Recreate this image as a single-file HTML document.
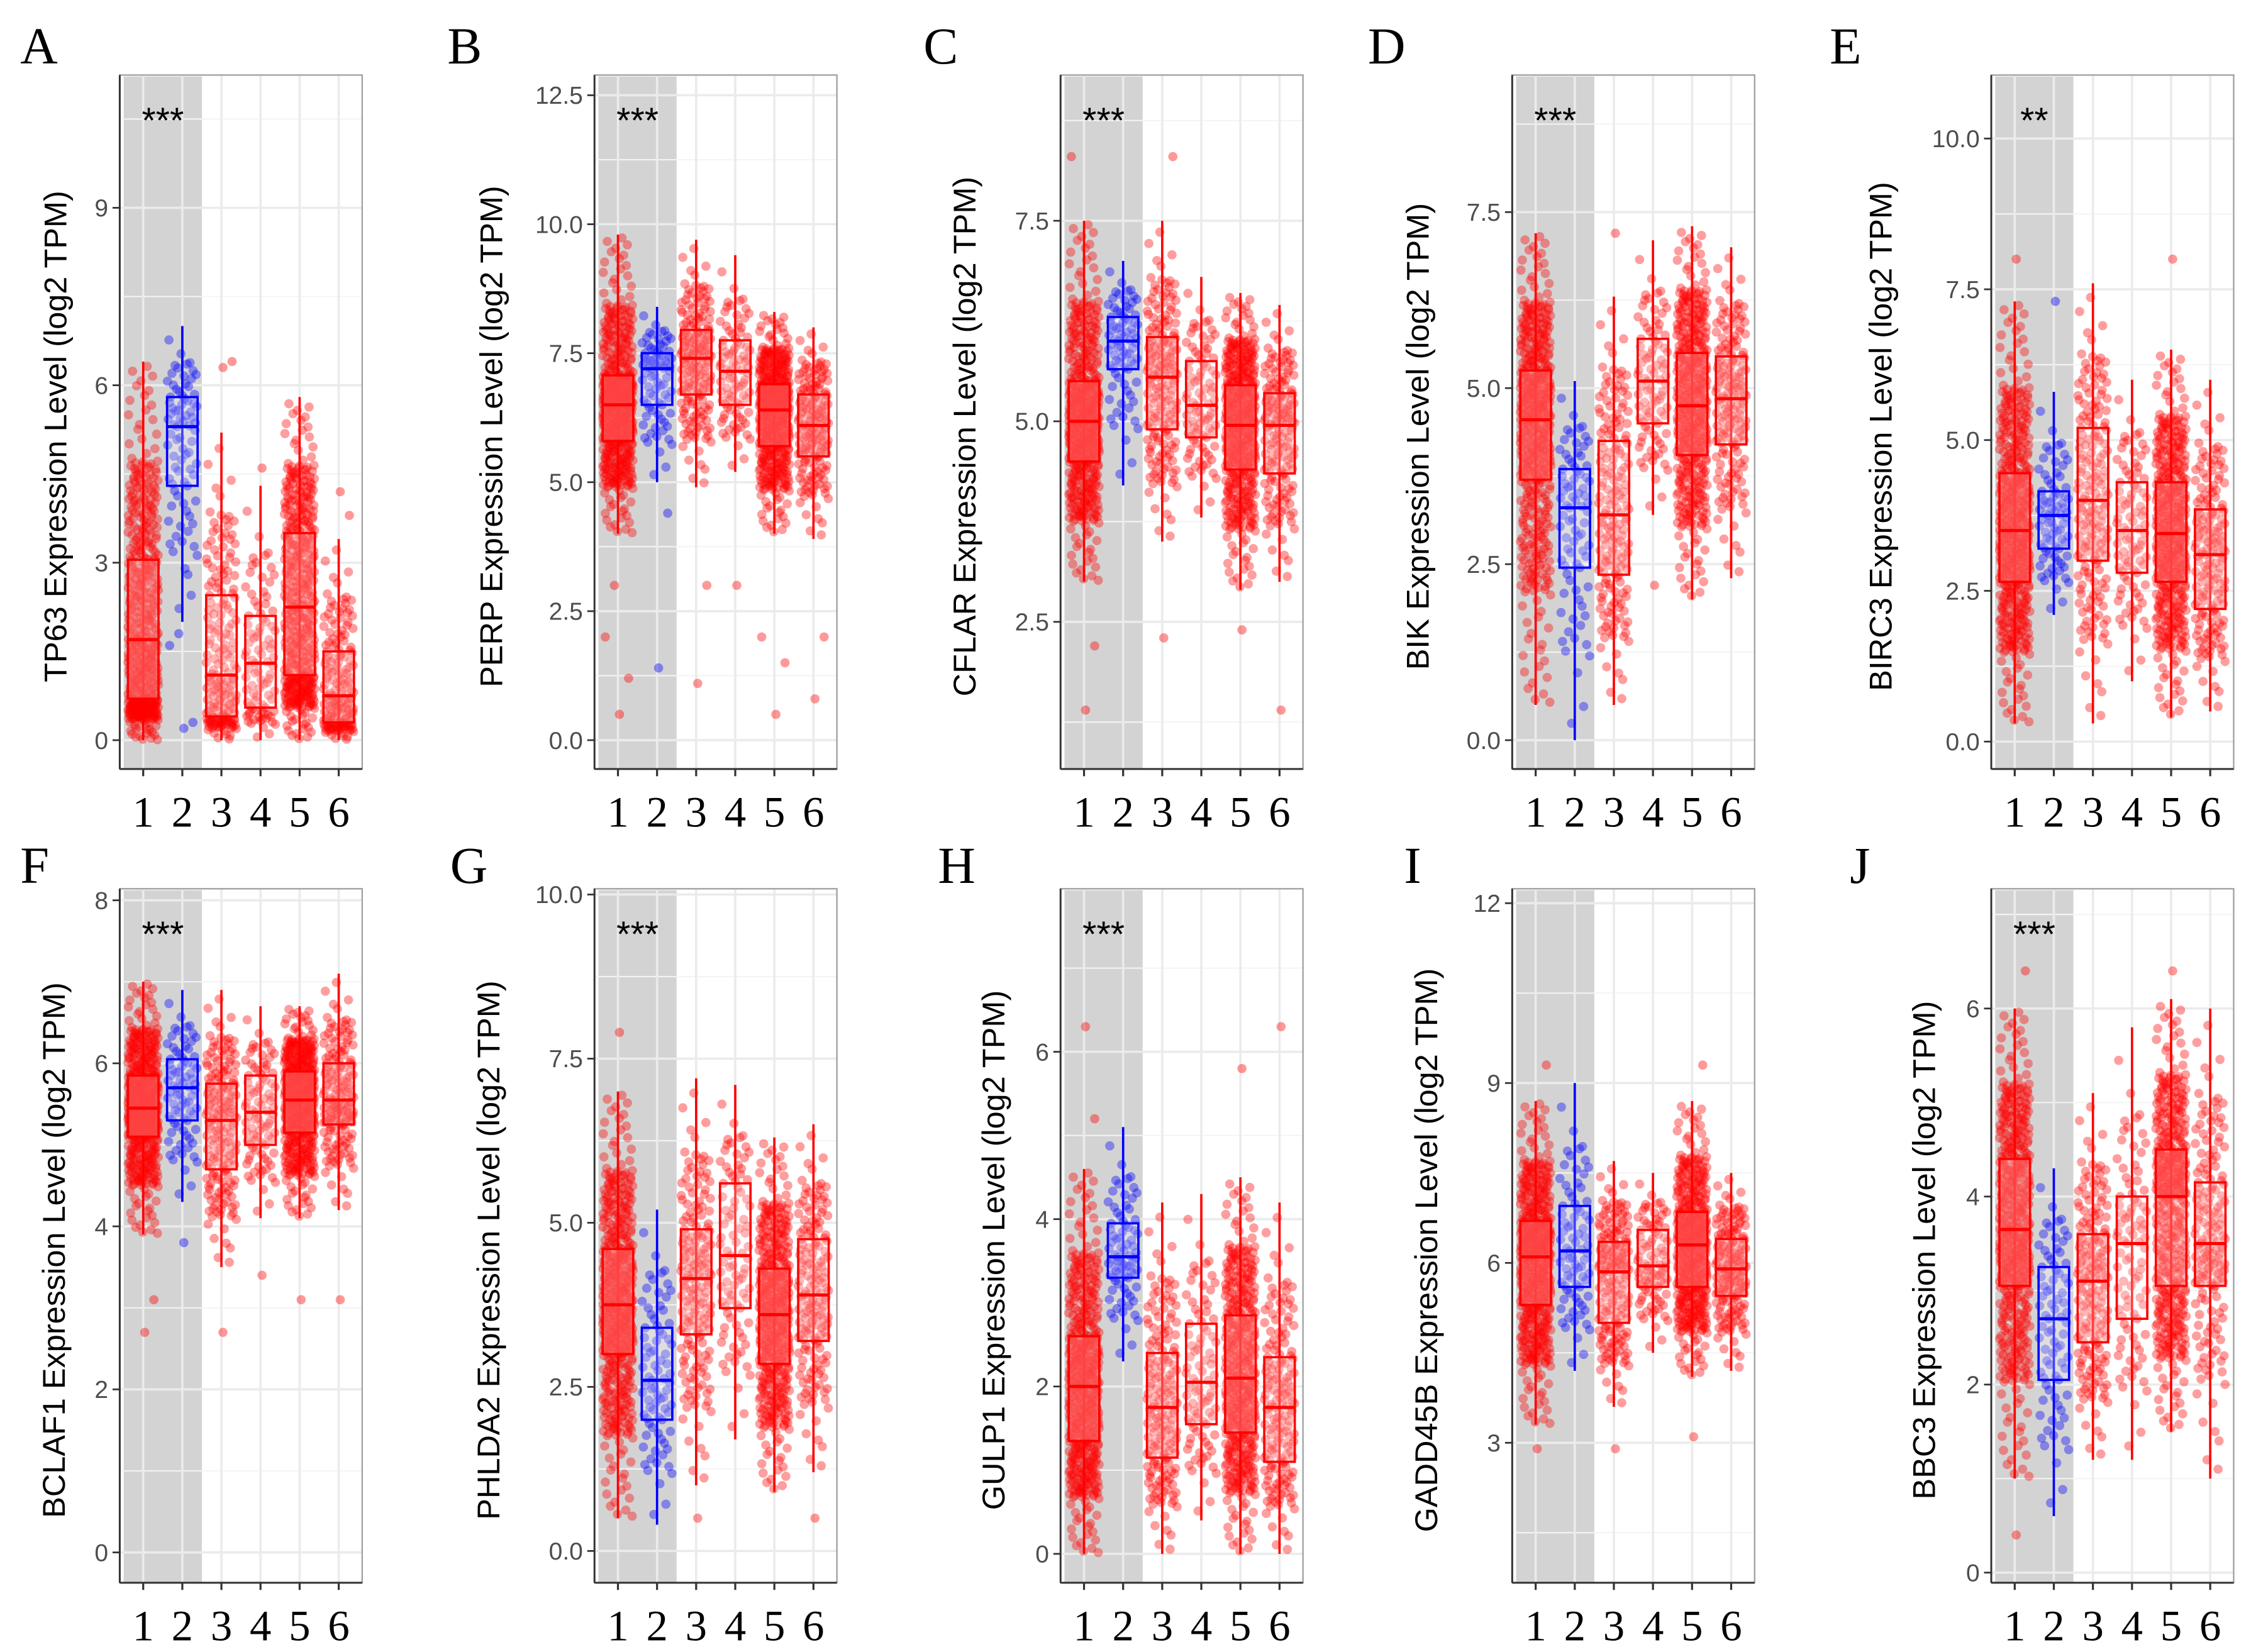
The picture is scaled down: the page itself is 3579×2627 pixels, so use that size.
<!DOCTYPE html>
<html><head><meta charset="utf-8"><style>
html,body{margin:0;padding:0;background:#fff;}
svg{display:block;}
.tick{font-family:"Liberation Sans",sans-serif;font-size:17px;fill:#4d4d4d;}
.ytitle{font-family:"Liberation Sans",sans-serif;font-size:22px;fill:#000;}
.xl{font-family:"Liberation Serif",serif;font-size:30px;fill:#000;}
.letter{font-family:"Liberation Serif",serif;font-size:36px;fill:#000;}
.star{font-family:"Liberation Sans",sans-serif;font-size:25px;fill:#000;}
</style></head><body>
<svg id="fig" width="3579" height="2627" viewBox="0 0 1560 1145" xmlns="http://www.w3.org/2000/svg"></svg>
<script>
// ---- data (per group: whisker low, q1, median, q3, whisker high) ----
const genes = ["TP63","PERP","CFLAR","BIK","BIRC3","BCLAF1","PHLDA2","GULP1","GADD45B","BBC3"];
const panelLetters = ["A","B","C","D","E","F","G","H","I","J"];
const significance = ["***","***","***","***","**","***","***","***","","***"];
const categories = ["1","2","3","4","5","6"];
const groupCounts = [520, 80, 180, 90, 480, 170];
const tickValues = [
  [0,3,6,9],[0,2.5,5,7.5,10,12.5],[2.5,5,7.5],[0,2.5,5,7.5],[0,2.5,5,7.5,10],
  [0,2,4,6,8],[0,2.5,5,7.5,10],[0,2,4,6],[3,6,9,12],[0,2,4,6]];
const tickLabels = [
  ["0","3","6","9"],["0.0","2.5","5.0","7.5","10.0","12.5"],["2.5","5.0","7.5"],["0.0","2.5","5.0","7.5"],["0.0","2.5","5.0","7.5","10.0"],
  ["0","2","4","6","8"],["0.0","2.5","5.0","7.5","10.0"],["0","2","4","6"],["3","6","9","12"],["0","2","4","6"]];
const boxStats = [
  [[0,0.7,1.7,3.05,6.4],[2.0,4.3,5.3,5.8,7.0],[0,0.4,1.1,2.45,5.2],[0,0.55,1.3,2.1,4.3],[0,1.1,2.25,3.5,5.8],[0,0.3,0.75,1.5,3.4]],
  [[4.0,5.8,6.5,7.07,9.8],[5.0,6.5,7.2,7.5,8.4],[4.9,6.7,7.4,7.95,9.7],[5.2,6.5,7.15,7.75,9.4],[4.0,5.7,6.4,6.9,8.3],[3.9,5.5,6.1,6.7,8.0]],
  [[3.0,4.5,5.0,5.5,7.5],[4.2,5.65,6.0,6.3,7.0],[3.5,4.9,5.55,6.05,7.5],[3.8,4.8,5.2,5.75,6.8],[2.9,4.4,4.95,5.45,6.6],[3.0,4.35,4.95,5.35,6.45]],
  [[0.5,3.7,4.55,5.25,7.2],[0,2.45,3.3,3.85,5.1],[0.5,2.35,3.2,4.25,6.3],[3.2,4.5,5.1,5.7,7.1],[2.0,4.05,4.75,5.5,7.3],[2.3,4.2,4.85,5.45,7.0]],
  [[0.3,2.65,3.5,4.45,7.3],[2.1,3.2,3.75,4.15,5.8],[0.3,3.0,4.0,5.2,7.6],[1.0,2.8,3.5,4.3,6.0],[0.4,2.65,3.45,4.3,6.5],[0.5,2.2,3.1,3.85,6.0]],
  [[3.9,5.1,5.45,5.85,7.0],[4.3,5.3,5.7,6.05,6.9],[3.5,4.7,5.3,5.75,6.9],[4.1,5.0,5.4,5.85,6.7],[4.1,5.15,5.55,5.9,6.7],[4.2,5.25,5.55,6.0,7.1]],
  [[0.5,3.0,3.75,4.6,7.0],[0.4,2.0,2.6,3.4,5.2],[1.0,3.3,4.15,4.9,7.2],[1.7,3.7,4.5,5.6,7.1],[0.9,2.85,3.6,4.3,6.3],[1.2,3.2,3.9,4.75,6.5]],
  [[0,1.35,2.0,2.6,4.6],[2.3,3.3,3.55,3.95,5.1],[0,1.15,1.75,2.4,4.2],[0.4,1.55,2.05,2.75,4.3],[0,1.45,2.1,2.85,4.5],[0,1.1,1.75,2.35,4.2]],
  [[3.3,5.3,6.1,6.7,8.7],[4.2,5.6,6.2,6.95,9.0],[3.6,5.0,5.85,6.35,7.7],[4.5,5.6,5.95,6.55,7.5],[4.1,5.6,6.3,6.85,8.7],[4.2,5.45,5.9,6.4,7.5]],
  [[1.0,3.05,3.65,4.4,6.0],[0.6,2.05,2.7,3.25,4.3],[1.2,2.45,3.1,3.6,5.1],[1.2,2.7,3.5,4.0,5.8],[1.5,3.05,4.0,4.5,6.1],[1.0,3.05,3.5,4.15,6.0]]];
const outliers = [
  [[],[0.2,0.3,1.6,1.8,2.8],[6.3,6.4],[4.6],[],[4.2,3.8]],
  [[0.5,1.2,2.0,3.0],[1.4,4.4],[1.1,3.0],[3.0],[0.5,1.5,2.0],[0.8,2.0]],
  [[1.4,2.2,8.3],[],[2.3,8.3],[],[2.4],[1.4]],
  [[],[],[7.2],[2.2],[],[]],
  [[8.0],[7.3],[],[],[8.0],[]],
  [[2.7,3.1],[3.8],[2.7],[3.4],[3.1],[3.1]],
  [[7.9],[],[0.5],[],[],[0.5]],
  [[6.3,5.2],[],[],[],[5.8],[6.3]],
  [[2.9,9.3],[],[2.9],[],[3.1,9.3],[]],
  [[0.4,6.4],[],[],[],[6.4],[]]];

// ---- layout ----
const panelLeft = [83,412,735,1048,1380,83,412,735,1048,1380];
const rowTop = [52,616], rowBottom = [533,1097];
const pxRef = [[0,513,9,144],[0,513,12.5,66],[2.5,431,7.5,153],[0,513,7.5,147],[0,514,10,96],
               [0,1076,8,624],[0,1075,10,620],[0,1077,6,729],[3,1000,12,626],[0,1090,6,699]];
const titleOffset = [45,72,67,66,77,46,74,47,60,47];
const letterPos = [[14,44],[310,44],[640,44],[948,44],[1268,44],[14,612],[312,612],[650,612],[973,612],[1282,612]];
const quantileKnots = [0,0.04,0.25,0.5,0.75,0.96,1];

const NS = "http://www.w3.org/2000/svg";
const svg = document.getElementById("fig");
function mk(tag, attrs, parent){const e=document.createElementNS(NS,tag);for(const k in attrs)e.setAttribute(k,attrs[k]);(parent||svg).appendChild(e);return e;}
function vdc(i,b){let f=1,r=0;while(i>0){f/=b;r+=f*(i%b);i=Math.floor(i/b);}return r;}
function quant(s,u){
  const vals=[s[0], s[1]-(s[1]-s[0])*0.5, s[1], s[2], s[3], s[3]+(s[4]-s[3])*0.5, s[4]];
  for(let i=0;i<6;i++){ if(u<=quantileKnots[i+1]){const f=(u-quantileKnots[i])/(quantileKnots[i+1]-quantileKnots[i]);return vals[i]+(vals[i+1]-vals[i])*f;} }
  return vals[6];
}

for(let p=0;p<10;p++){
  const row = p<5?0:1;
  const L = panelLeft[p], R = L+168, T = rowTop[row], B = rowBottom[row];
  const [v0,p0,v1,p1] = pxRef[p];
  const ys = v => p0 + (v-v0)*(p1-p0)/(v1-v0);
  const unit = 168/6.2;
  const xs = g => L + (0.6+g)*unit;
  const g = mk("g",{});
  
  

  const bg = mk("rect",{x:L,y:T,width:168,height:B-T,fill:"#fff"},g);
  
  
  const band = mk("rect",{x:xs(-0.5),y:T+1,width:2*unit,height:B-T-1,fill:"#d3d3d3"},g);
  
  
  const tv = tickValues[p];
  const step = tv[1]-tv[0];
  for(let v=tv[0]-step*3; v<=tv[tv.length-1]+step*3; v+=step/2){
    const y=ys(v); if(y<T+1||y>B-1) continue;
    const major = Math.abs(((v-tv[0])/step)-Math.round((v-tv[0])/step))<1e-6;
    const gl = mk("line",{x1:L,x2:R,y1:y,y2:y,stroke:major?"#ebebeb":"#f4f4f4","stroke-width":major?1.6:0.9},g);
    
    
  }
  for(let k=0;k<6;k++){
    const vl = mk("line",{x1:xs(k),x2:xs(k),y1:T,y2:B,stroke:"#ebebeb","stroke-width":1.6},g);
    
    
  }
  for(let k=0;k<6;k++){
    const s = boxStats[p][k];
    const col = k===1?"#0000ff":"#ff0000";
    const n = groupCounts[k];
    for(let i=1;i<=n;i++){
      const u = vdc(i,2), w = vdc(i,3);
      const v = quant(s,u);
      const c = mk("circle",{cx:xs(k)+(w-0.5)*0.78*unit,cy:ys(v),r:3.2,fill:col,"fill-opacity":0.38},g);
      
      
    }
    outliers[p][k].forEach((v,j)=>{
      const c = mk("circle",{cx:xs(k)+(vdc(j+7,3)-0.5)*0.7*unit,cy:ys(v),r:3.2,fill:col,"fill-opacity":0.4},g);
      
      
    });
  }
  for(let k=0;k<6;k++){
    const s = boxStats[p][k];
    const col = k===1?"#0000ff":"#ff0000";
    const bw = 0.78*unit, x = xs(k);
    const wh = mk("line",{x1:x,x2:x,y1:ys(s[0]),y2:ys(s[4]),stroke:col,"stroke-width":1.6},g);
    
    
    const bx = mk("rect",{x:x-bw/2,y:ys(s[3]),width:bw,height:ys(s[1])-ys(s[3]),fill:"#fff","fill-opacity":0.25,stroke:col,"stroke-width":1.6},g);
    
    
    const md = mk("line",{x1:x-bw/2,x2:x+bw/2,y1:ys(s[2]),y2:ys(s[2]),stroke:col,"stroke-width":2.2},g);
    
    
  }
  const fr = mk("rect",{x:L,y:T,width:168,height:B-T,fill:"none",stroke:"#a0a0a0","stroke-width":1},g);
  
  
  const ya = mk("line",{x1:L,x2:L,y1:T,y2:B,stroke:"#333","stroke-width":1.3},g);
  
  
  const xa = mk("line",{x1:L,x2:R,y1:B,y2:B,stroke:"#333","stroke-width":1.3},g);
  
  
  tv.forEach((v,i)=>{
    const y=ys(v);
    const tk = mk("line",{x1:L-5,x2:L,y1:y,y2:y,stroke:"#333","stroke-width":1.2},g);
    
    
    const t = mk("text",{x:L-8,y:y+6,"text-anchor":"end",class:"tick"},g);
    t.textContent = tickLabels[p][i];
    
    
  });
  categories.forEach((c,k)=>{
    const tk = mk("line",{x1:xs(k),x2:xs(k),y1:B,y2:B+5,stroke:"#333","stroke-width":1.4},g);
    
    
    const t = mk("text",{x:xs(k),y:B+40,"text-anchor":"middle",class:"xl"},g);
    t.textContent = c;
    
    
  });
  const tx = L-titleOffset[p]+8, ty=(T+B)/2+10;
  const tt = mk("text",{x:tx,y:ty,"text-anchor":"middle",class:"ytitle",transform:`rotate(-90 ${tx} ${ty})`},g);
  tt.textContent = genes[p]+" Expression Level (log2 TPM)";
  
  
  if(significance[p]){
    const st = mk("text",{x:xs(0.5),y:T+40,"text-anchor":"middle",class:"star"},g);
    st.textContent = significance[p];
    
    
  }
  const lt = mk("text",{x:letterPos[p][0],y:letterPos[p][1],class:"letter"},g);
  lt.textContent = panelLetters[p];
  
  
}
</script>
</body></html>
